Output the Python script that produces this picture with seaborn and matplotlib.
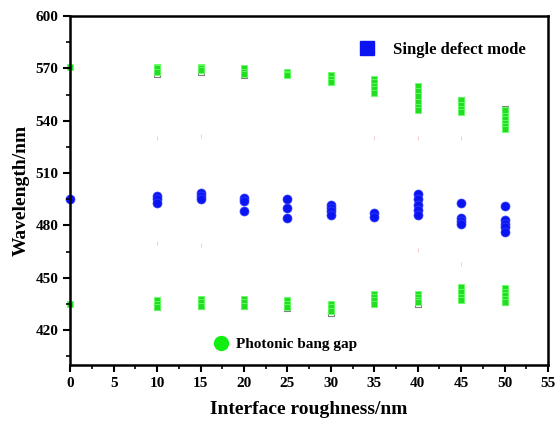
import numpy as np
import pandas as pd
import matplotlib
matplotlib.use('Agg')
import matplotlib.pyplot as plt
import seaborn as sns
from matplotlib.lines import Line2D
from matplotlib.ticker import MultipleLocator

# Single defect mode (blue)
defect_x = [0, 10, 10, 10, 15, 15, 15, 20, 20, 20, 25, 25, 25,
            30, 30, 30, 30, 35, 35, 40, 40, 40, 40, 40,
            45, 45, 45, 45, 50, 50, 50, 50, 50]
defect_y = [495, 497, 495, 493, 498.5, 497, 495, 496, 494, 488, 495, 490, 484,
            492, 490, 488, 486, 487, 485, 498, 495, 492, 489, 486,
            493, 484.5, 482.5, 481, 491, 483, 481, 479, 476]

# Photonic band gap edges (green), upper and lower
gap_x = [0, 10, 10, 10, 15, 15, 15, 20, 20, 20, 25, 25, 25, 30, 30, 30,
         35, 35, 35, 35, 35, 40, 40, 40, 40, 40, 40, 45, 45, 45, 45,
         50, 50, 50, 50, 50, 50,
         0, 10, 10, 10, 15, 15, 15, 20, 20, 20, 25, 25, 25, 30, 30, 30,
         35, 35, 35, 35, 40, 40, 40, 40, 45, 45, 45, 45,
         50, 50, 50, 50, 50]
gap_y = [571, 571, 570, 568, 571, 570, 569, 570, 568, 567, 568, 567, 566, 566, 564, 562,
         564, 562, 560, 558, 556, 560, 557, 554, 551, 548, 546, 552, 549, 547, 545,
         546, 543, 541, 539, 537, 535,
         435, 437, 435, 433, 438, 436, 434, 438, 436, 434, 437, 435, 433, 435, 433, 431,
         441, 439, 437, 435, 441, 439, 437, 436, 445, 442, 439, 437,
         444, 442, 440, 438, 436]

# gray open squares at the outer ends
edge_x = [10, 15, 20, 45, 50, 10, 15, 20, 25, 30, 40, 50]
edge_y = [567, 568, 566, 552, 547, 433, 434, 434, 432.5, 430, 435, 436]

# faint pink marks
faint_x = [10, 15, 10, 15, 35, 40, 45, 40, 45]
faint_y = [530, 531, 470, 469, 530, 530, 530, 466, 458]

plt.rcParams['font.family'] = ['Liberation Serif', 'DejaVu Serif']
plt.rcParams['font.weight'] = 'bold'

fig = plt.figure(figsize=(5.57, 4.23), dpi=100)
ax = fig.add_axes([0.126, 0.137, 0.858, 0.825])

sns.scatterplot(x=faint_x, y=faint_y, ax=ax, marker='|', s=12, color='#ff9999',
                alpha=0.5, linewidth=0.8, clip_on=False)
sns.scatterplot(x=edge_x, y=edge_y, ax=ax, marker='s', s=14, facecolor='white',
                edgecolor='#808080', linewidth=0.8, clip_on=False)
sns.scatterplot(x=gap_x, y=gap_y, ax=ax, marker='s', s=14, color='#22dd22',
                edgecolor='#66ff66', linewidth=0.6, clip_on=False)
sns.scatterplot(x=defect_x, y=defect_y, ax=ax, marker='o', s=42, color='#0a14f0',
                edgecolor='#3340ff', linewidth=0.5, clip_on=False)

ax.set_xlim(0, 55)
ax.set_ylim(400, 600)
ax.xaxis.set_major_locator(MultipleLocator(5))
ax.xaxis.set_minor_locator(MultipleLocator(2.5))
ax.yaxis.set_major_locator(MultipleLocator(30))
ax.yaxis.set_minor_locator(MultipleLocator(15))
ax.set_yticks(np.arange(420, 601, 30))
ax.tick_params(which='major', direction='out', length=5, width=1.5, labelsize=11)
ax.tick_params(which='minor', direction='out', length=3, width=1.2)
for s in ax.spines.values():
    s.set_linewidth(1.8)
for lab in ax.get_xticklabels() + ax.get_yticklabels():
    lab.set_fontweight('bold')

ax.set_xlabel('Interface roughness/nm', fontsize=14, fontweight='bold', labelpad=8)
ax.set_ylabel('Wavelength/nm', fontsize=14, fontweight='bold', labelpad=4)

h1 = [Line2D([], [], marker='s', linestyle='none', markersize=10, color='#0a14f0')]
leg1 = ax.legend(h1, ['Single defect mode'], loc='upper right', bbox_to_anchor=(0.985, 0.97),
                 frameon=False, prop={'size': 12, 'weight': 'bold'}, handletextpad=0.6)
ax.add_artist(leg1)
h2 = [Line2D([], [], marker='o', linestyle='none', markersize=10, color='#11ee11')]
ax.legend(h2, ['Photonic bang gap'], loc='lower left', bbox_to_anchor=(0.255, 0.0),
          frameon=False, prop={'size': 11, 'weight': 'bold'}, handletextpad=0.0)

fig.savefig('out.png', dpi=100)
